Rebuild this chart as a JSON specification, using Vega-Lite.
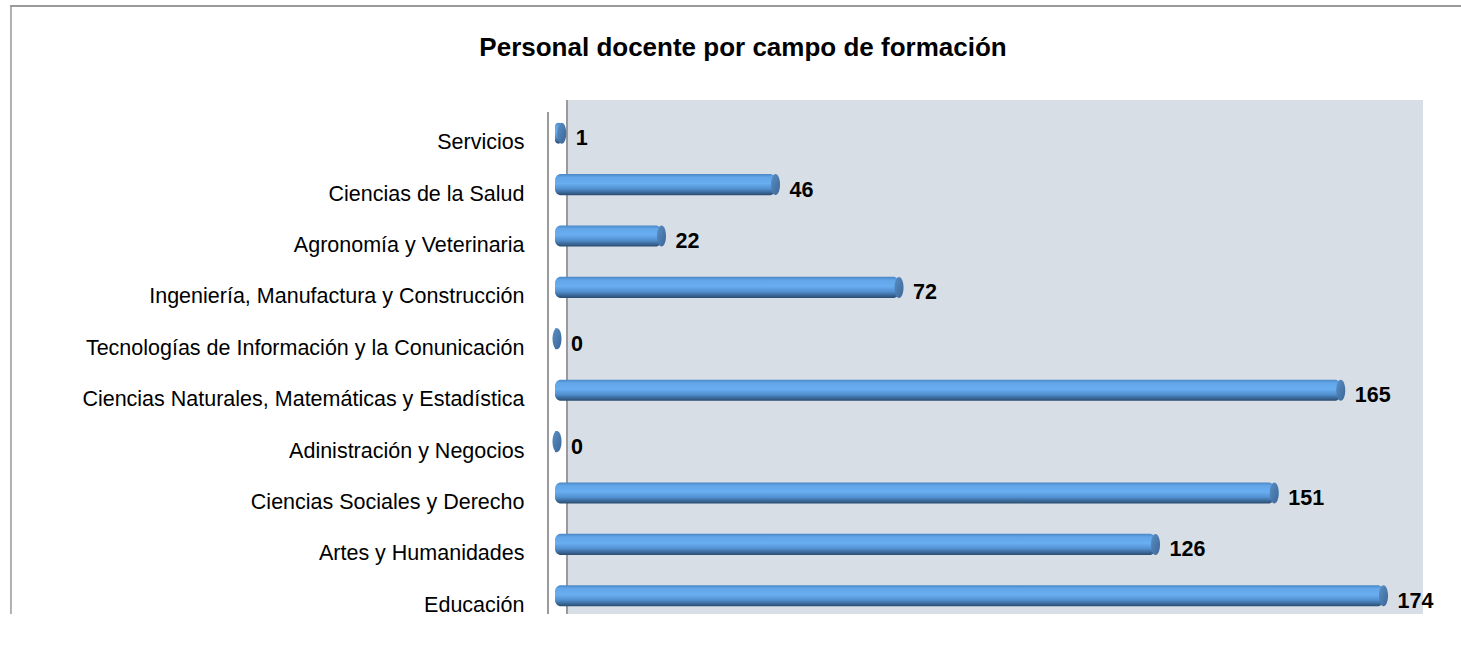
{
  "$schema": "https://vega.github.io/schema/vega-lite/v6.json",
  "autosize": {"type": "none"},
  "padding": {"left": 567, "top": 100, "right": 38, "bottom": 43},
  "width": 856,
  "height": 514,
  "background": "#ffffff",
  "title": {
    "text": "Personal docente por campo de formación",
    "font": "Liberation Sans, Arial, sans-serif",
    "fontSize": 26,
    "fontWeight": "bold",
    "color": "#000000",
    "anchor": "middle",
    "frame": "group",
    "dx": -252,
    "baseline": "alphabetic",
    "offset": -77
  },
  "config": {
    "view": {"stroke": null, "fill": "#d8dee6"},
    "axis": {"grid": false}
  },
  "data": {
    "values": [
      {"campo": "Servicios", "docentes": 1},
      {"campo": "Ciencias de la Salud", "docentes": 46},
      {"campo": "Agronomía y Veterinaria", "docentes": 22},
      {"campo": "Ingeniería, Manufactura y Construcción", "docentes": 72},
      {"campo": "Tecnologías de Información y la Conunicación", "docentes": 0},
      {"campo": "Ciencias Naturales, Matemáticas y Estadística", "docentes": 165},
      {"campo": "Adinistración y Negocios", "docentes": 0},
      {"campo": "Ciencias Sociales y Derecho", "docentes": 151},
      {"campo": "Artes y Humanidades", "docentes": 126},
      {"campo": "Educación", "docentes": 174}
    ]
  },
  "encoding": {
    "y": {
      "field": "campo",
      "type": "nominal",
      "sort": null,
      "scale": {"range": [7.5, 521.5], "paddingInner": 0.59, "paddingOuter": 0.295},
      "axis": {
        "title": null,
        "ticks": false,
        "domain": false,
        "labelFont": "Liberation Sans, Arial, sans-serif",
        "labelFontSize": 21.5,
        "labelColor": "#000000",
        "labelPadding": 43,
        "labelLimit": 0,
        "labelBaseline": "alphabetic",
        "labelOffset": 16
      }
    }
  },
  "layer": [
    {
      "data": {"values": [{}]},
      "mark": {"type": "rule", "color": "#9a9a9a", "strokeWidth": 2, "yOffset": 12},
      "encoding": {
        "x": {"datum": -2.74, "type": "quantitative", "scale": {"domain": [0, 180], "range": [-6, 849], "zero": false, "nice": false}, "axis": null},
        "y": null
      }
    },
    {
      "data": {"values": [{}]},
      "mark": {"type": "rule", "color": "#9a9a9a", "strokeWidth": 2},
      "encoding": {
        "x": {"datum": 1.263, "type": "quantitative"},
        "y": null
      }
    },
    {
      "data": {"values": [{}]},
      "mark": {"type": "rule", "color": "#b0b0b0", "strokeWidth": 2, "yOffset": -94},
      "encoding": {
        "x": {"datum": -115.8, "type": "quantitative"},
        "y": null
      }
    },
    {
      "data": {"values": [{}]},
      "mark": {"type": "rule", "color": "#9a9a9a", "strokeWidth": 2, "yOffset": -351},
      "encoding": {
        "x": {"datum": -116, "type": "quantitative"},
        "x2": {"datum": 190},
        "y": null
      }
    },
    {
      "mark": {
        "type": "bar",
        "xOffset": -4,
        "x2Offset": -6,
        "cornerRadius": 6,
        "color": {
          "gradient": "linear",
          "x1": 0, "y1": 0, "x2": 0, "y2": 1,
          "stops": [
            {"offset": 0, "color": "#4a86c5"},
            {"offset": 0.15, "color": "#62a6e8"},
            {"offset": 0.45, "color": "#68aef0"},
            {"offset": 0.7, "color": "#5290d0"},
            {"offset": 0.9, "color": "#37628f"},
            {"offset": 1, "color": "#2b4c70"}
          ]
        }
      },
      "encoding": {
        "x": {"field": "docentes", "type": "quantitative"},
        "x2": {"datum": 0}
      }
    },
    {
      "mark": {
        "type": "point",
        "filled": true,
        "opacity": 1,
        "xOffset": -4,
        "size": 441,
        "shape": "M 0 -1 A 0.43 1 0 1 1 0 1 A 0.43 1 0 1 1 0 -1 Z",
        "color": {
          "gradient": "linear",
          "x1": 0, "y1": 0, "x2": 1, "y2": 1,
          "stops": [
            {"offset": 0, "color": "#5b8fc6"},
            {"offset": 1, "color": "#3a6695"}
          ]
        }
      },
      "encoding": {
        "x": {"field": "docentes", "type": "quantitative"}
      }
    },
    {
      "mark": {
        "type": "text",
        "align": "left",
        "baseline": "alphabetic",
        "dx": 10,
        "dy": 12,
        "font": "Liberation Sans, Arial, sans-serif",
        "fontSize": 21.5,
        "fontWeight": "bold",
        "color": "#000000"
      },
      "encoding": {
        "x": {"field": "docentes", "type": "quantitative"},
        "text": {"field": "docentes", "type": "quantitative"}
      }
    }
  ]
}
